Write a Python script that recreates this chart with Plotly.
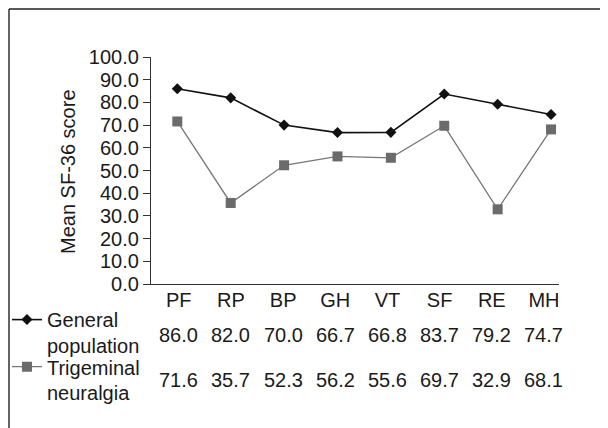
import plotly.graph_objects as go

categories = ["PF", "RP", "BP", "GH", "VT", "SF", "RE", "MH"]
general_population = [86.0, 82.0, 70.0, 66.7, 66.8, 83.7, 79.2, 74.7]
trigeminal_neuralgia = [71.6, 35.7, 52.3, 56.2, 55.6, 69.7, 32.9, 68.1]
y_ticks = [0, 10, 20, 30, 40, 50, 60, 70, 80, 90, 100]

FONT = "Liberation Sans, Arial, sans-serif"
TXT = "#1a1a1a"
idx = list(range(len(categories)))

# table rows: vertical centre of each row, in paper units below the axis
ROW_Y = [-0.2225, -0.4242]

fig = go.Figure()
fig.add_trace(go.Scatter(
    x=idx, y=general_population, name="General<br>population",
    mode="lines+markers", legend="legend",
    line=dict(color="#111111", width=1.6),
    marker=dict(symbol="diamond", size=8.5, color="#111111"),
))
fig.add_trace(go.Scatter(
    x=idx, y=trigeminal_neuralgia, name="Trigeminal<br>neuralgia",
    mode="lines+markers", legend="legend2",
    line=dict(color="#777777", width=1.3),
    marker=dict(symbol="square", size=10, color="#6b6b6b"),
))
# invisible trace so that the label axis x2 is drawn
fig.add_trace(go.Scatter(x=idx, y=[None] * len(idx), xaxis="x2", yaxis="y",
                         mode="markers", showlegend=False, hoverinfo="skip"))

annotations = [dict(text="Mean SF-36 score", xref="paper", yref="paper",
                    x=-0.2034, y=0.4934, textangle=-90, showarrow=False,
                    xanchor="center", yanchor="middle",
                    font=dict(family=FONT, size=20, color=TXT))]
for vals, ry in zip([general_population, trigeminal_neuralgia], ROW_Y):
    for i, v in zip(idx, vals):
        annotations.append(dict(text=f"{v:.1f}", xref="x2", yref="paper",
                                x=i, y=ry, showarrow=False,
                                xanchor="center", yanchor="middle",
                                font=dict(family=FONT, size=20, color=TXT)))

legend_common = dict(xanchor="left", yanchor="top",
                     font=dict(family=FONT, size=20, color=TXT),
                     valign="top", bgcolor="rgba(0,0,0,0)", itemwidth=30,
                     tracegroupgap=0)

fig.update_layout(
    width=608, height=428,
    margin=dict(l=143, r=57, t=49, b=152, autoexpand=False),
    paper_bgcolor="white", plot_bgcolor="white",
    font=dict(family=FONT, size=20, color=TXT),
    xaxis=dict(range=[-0.4926, 7.149], showline=True, linecolor="#333333",
               linewidth=1.3, showgrid=False, zeroline=False, ticks="",
               showticklabels=False),
    xaxis2=dict(range=[-0.533, 7.288], overlaying="x", anchor="y", side="bottom",
                tickvals=idx, ticktext=categories, showline=False, showgrid=False,
                zeroline=False, ticks="", ticklabelstandoff=2,
                tickfont=dict(family=FONT, size=20, color=TXT)),
    yaxis=dict(range=[0, 100], tickvals=y_ticks, tickformat=".1f",
               showline=True, linecolor="#333333", linewidth=1.3,
               ticks="outside", ticklen=7, tickcolor="#333333", tickwidth=1.3,
               showgrid=False, zeroline=False,
               tickfont=dict(family=FONT, size=20, color=TXT)),
    legend=dict(x=-0.353, y=-0.0709, **legend_common),
    legend2=dict(x=-0.353, y=-0.2784, **legend_common),
    showlegend=True,
    annotations=annotations,
    shapes=[
        dict(type="line", xref="paper", yref="paper", x0=-0.34804, x1=1.13,
             y0=1.21145, y1=1.21145, line=dict(color="#222222", width=1.4)),
        dict(type="line", xref="paper", yref="paper", x0=-0.34804, x1=-0.34804,
             y0=1.21145, y1=-0.7, line=dict(color="#222222", width=1.4)),
    ],
)

fig.write_html("out.html")
